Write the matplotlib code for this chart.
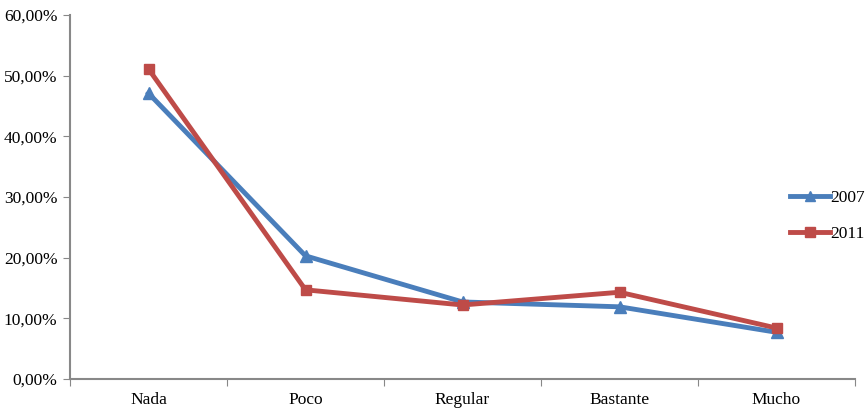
import matplotlib
matplotlib.use('Agg')
import matplotlib.pyplot as plt
from matplotlib.ticker import FuncFormatter

categories = ['Nada', 'Poco', 'Regular', 'Bastante', 'Mucho']
values_2007 = [47.1, 20.3, 12.7, 11.9, 7.7]
values_2011 = [51.1, 14.7, 12.2, 14.3, 8.4]

plt.rcParams['font.family'] = ['Liberation Serif', 'DejaVu Serif']

fig = plt.figure(figsize=(8.68, 4.09), dpi=100)
ax = fig.add_axes([70 / 868, 30 / 409, 785 / 868, 364 / 409])

x = list(range(len(categories)))
ax.plot(x, values_2007, color='#4a7ebb', linewidth=3.5, marker='^',
        markersize=8, label='2007')
ax.plot(x, values_2011, color='#be4b48', linewidth=3.5, marker='s',
        markersize=7.5, label='2011')

ax.set_xlim(-0.5, len(categories) - 0.5)
ax.set_ylim(0, 60)
ax.set_yticks(range(0, 61, 10))
ax.yaxis.set_major_formatter(FuncFormatter(lambda v, p: ('%.2f%%' % v).replace('.', ',')))
ax.set_xticks([i - 0.5 for i in range(len(categories) + 1)])
ax.set_xticklabels([])
ax.set_xticks(x, minor=True)
ax.set_xticklabels(categories, minor=True)
ax.tick_params(axis='x', which='minor', length=0, pad=9, labelsize=12.5)
ax.tick_params(axis='x', which='major', length=5, color='#888888', direction='out')
ax.tick_params(axis='y', length=5, color='#888888', labelsize=12.5, pad=4)

for side in ['top', 'right']:
    ax.spines[side].set_visible(False)
for side in ['left', 'bottom']:
    ax.spines[side].set_color('#888888')
    ax.spines[side].set_linewidth(1.5)

fig.legend(loc='center left', bbox_to_anchor=(774 / 868, 1 - 216 / 409),
           frameon=False, fontsize=12.5, handlelength=2.3, handletextpad=0.05,
           labelspacing=1.1, markerscale=0.9)

fig.savefig('out.png', dpi=100)
